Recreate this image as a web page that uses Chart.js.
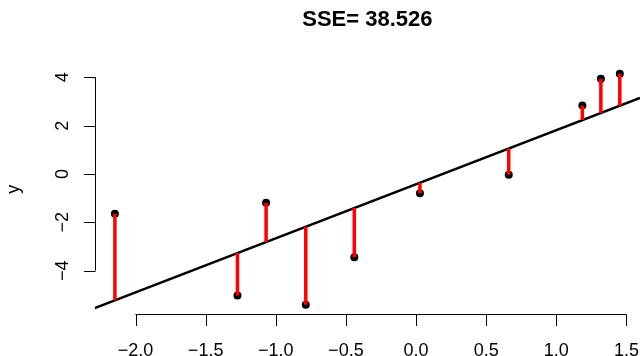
<!DOCTYPE html>
<html>
<head>
<meta charset="utf-8">
<script src="https://cdn.jsdelivr.net/npm/chart.js@4/dist/chart.umd.min.js"></script>
<style>
  html, body { margin: 0; padding: 0; background: #fff; }
  #wrap { width: 644px; height: 356px; }
</style>
</head>
<body>
<div id="wrap"><canvas id="chart_plot" width="644" height="356"></canvas></div>
<script>
// observations
const xVals = [-2.147, -1.273, -1.069, -0.786, -0.440, 0.028, 0.661, 1.186, 1.318, 1.453];
const yVals = [-1.64, -5.03, -1.19, -5.41, -3.44, -0.80, -0.03, 2.84, 3.94, 4.15];

// axis ticks
const xTicks = [-2.0, -1.5, -1.0, -0.5, 0.0, 0.5, 1.0, 1.5];
const yTicks = [-4, -2, 0, 2, 4];

const titleText = 'SSE= 38.526';
const yTitle = 'y';
const fontFamily = '"Liberation Sans", Arial, Helvetica, sans-serif';

// least squares fit
const n = xVals.length;
const mx = xVals.reduce((a, b) => a + b, 0) / n;
const my = yVals.reduce((a, b) => a + b, 0) / n;
let sxy = 0, sxx = 0;
for (let i = 0; i < n; i++) {
    sxy += (xVals[i] - mx) * (yVals[i] - my);
    sxx += (xVals[i] - mx) * (xVals[i] - mx);
}
const slope = sxy / sxx;
const intercept = my - slope * mx;
const fitted = xVals.map(x => intercept + slope * x);

// plot limits padded 4% like base graphics
function padRange(v) {
    const lo = Math.min(...v), hi = Math.max(...v);
    const d = (hi - lo) * 0.04;
    return [lo - d, hi + d];
}
const [xMin, xMax] = padRange(xVals);
const [yMin, yMax] = padRange(yVals);

const residualSets = xVals.map((x, i) => ({
    data: [{x: x, y: yVals[i]}, {x: x, y: fitted[i]}],
    showLine: true,
    borderColor: '#ff0000',
    borderWidth: 3.5,
    borderCapStyle: 'butt',
    pointRadius: 0,
    order: 0
}));

const baseAxes = {
    id: 'baseAxes',
    afterDraw(chart) {
        const ctx = chart.ctx;
        const xs = chart.scales.x, ys = chart.scales.y;
        const area = chart.chartArea;
        const tick = 11.5;
        ctx.save();
        ctx.strokeStyle = '#000';
        ctx.fillStyle = '#000';
        ctx.lineWidth = 1;

        // bottom axis
        const by = Math.round(area.bottom) + 0.5;
        ctx.beginPath();
        ctx.moveTo(xs.getPixelForValue(xTicks[0]), by);
        ctx.lineTo(xs.getPixelForValue(xTicks[xTicks.length - 1]), by);
        xTicks.forEach(v => {
            const px = Math.round(xs.getPixelForValue(v)) + 0.5;
            ctx.moveTo(px, by);
            ctx.lineTo(px, by + tick);
        });
        ctx.stroke();
        ctx.font = '18px ' + fontFamily;
        ctx.textAlign = 'center';
        ctx.textBaseline = 'alphabetic';
        xTicks.forEach(v => {
            ctx.fillText(v.toFixed(1).replace('-', '\u2212'), xs.getPixelForValue(v), by + 41);
        });

        // left axis
        const lx = Math.round(area.left) + 0.5;
        ctx.beginPath();
        ctx.moveTo(lx, ys.getPixelForValue(yTicks[0]));
        ctx.lineTo(lx, ys.getPixelForValue(yTicks[yTicks.length - 1]));
        yTicks.forEach(v => {
            const py = Math.round(ys.getPixelForValue(v)) + 0.5;
            ctx.moveTo(lx, py);
            ctx.lineTo(lx - tick, py);
        });
        ctx.stroke();
        yTicks.forEach(v => {
            ctx.save();
            ctx.translate(lx - 28, ys.getPixelForValue(v));
            ctx.rotate(-Math.PI / 2);
            ctx.fillText(String(v).replace('-', '\u2212'), 0, 0);
            ctx.restore();
        });

        // axis title
        ctx.save();
        ctx.translate(18.5, (area.top + area.bottom) / 2);
        ctx.rotate(-Math.PI / 2);
        ctx.fillText(yTitle, 0, 0);
        ctx.restore();

        // main title
        ctx.font = 'bold 22px ' + fontFamily;
        ctx.fillText(titleText, (area.left + area.right) / 2, 26);
        ctx.restore();
    }
};

new Chart(document.getElementById('chart_plot'), {
    type: 'scatter',
    data: {
        datasets: residualSets.concat([
            {
                data: [{x: xMin, y: intercept + slope * xMin}, {x: xMax, y: intercept + slope * xMax}],
                showLine: true,
                borderColor: '#000',
                borderWidth: 2.5,
                pointRadius: 0,
                order: 1
            },
            {
                data: xVals.map((x, i) => ({x: x, y: yVals[i]})),
                backgroundColor: '#000',
                borderColor: '#000',
                borderWidth: 0,
                pointRadius: 4,
                order: 2
            }
        ])
    },
    options: {
        responsive: false,
        animation: false,
        layout: {
            padding: {left: 94.7, right: 1, top: 64.5, bottom: 42}
        },
        scales: {
            x: {type: 'linear', min: xMin, max: xMax, display: false},
            y: {type: 'linear', min: yMin, max: yMax, display: false}
        },
        plugins: {
            legend: {display: false},
            tooltip: {enabled: false},
            title: {display: false}
        }
    },
    plugins: [baseAxes]
});
</script>
</body>
</html>
